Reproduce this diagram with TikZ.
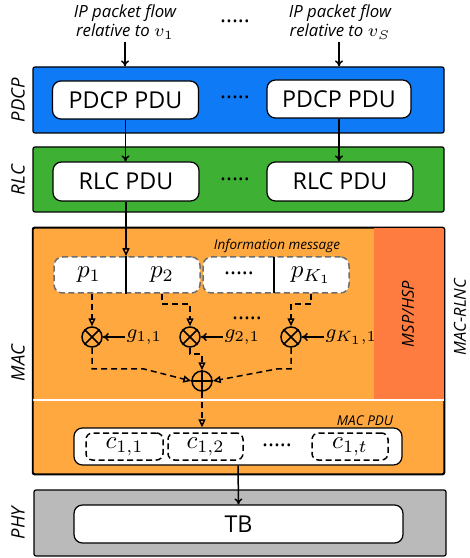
\documentclass[tikz,border=0pt]{standalone}
\usepackage{fontspec}
\setmainfont{Open Sans}
\usetikzlibrary{positioning,arrows.meta}

\definecolor{pdcpblue}{RGB}{14,122,246}
\definecolor{rlcgreen}{RGB}{62,176,52}
\definecolor{macorange}{RGB}{255,168,64}
\definecolor{mspred}{RGB}{255,124,64}
\definecolor{phygray}{RGB}{186,186,186}
\definecolor{infogray}{RGB}{110,110,110}

\def\px{0.4pt}

\tikzset{every picture/.style={line width=0.5pt},
  layer/.style={draw=black, rounded corners=0.8pt, inner sep=0pt},
  pdu/.style={draw=black, fill=white, rounded corners=3.4pt, inner sep=0pt, font=\fontsize{9.3}{11}\selectfont},
  infobox/.style={draw=infogray, fill=white, dash pattern=on 2.4pt off 1.4pt, line width=0.6pt, rounded corners=3.4pt, inner sep=0pt, minimum width=146*\px, minimum height=36*\px},
  codebox/.style={draw=black, dash pattern=on 2.4pt off 1.4pt, line width=0.6pt, rounded corners=2.6pt, inner sep=0pt, minimum height=27*\px},
  oper/.style={draw=black, circle, line width=0.6pt, minimum size=20*\px, inner sep=0pt},
  coeff/.style={inner sep=0.5pt, font=\fontsize{8.4}{10}\selectfont},
  sidelab/.style={rotate=90, font=\fontsize{7.4}{9}\selectfont\itshape},
  smalllab/.style={font=\fontsize{5.4}{6}\selectfont\itshape, inner sep=0.5pt},
  gaps/.style={font=\fontsize{9}{10}\selectfont, inner sep=0pt},
  solidarrow/.style={-{To[length=2.4pt,width=3.2pt]}, line width=0.6pt},
  opentip/.style={-{Triangle[open,length=3.2pt,width=2.8pt]}, line width=0.6pt},
  dashline/.style={dash pattern=on 2.4pt off 1.6pt}
}

\begin{document}
\begin{tikzpicture}[x=0.4pt,y=-0.4pt]
\useasboundingbox (0,0) rectangle (469,558);

% IP flows
\node [align=center, inner sep=1pt, font=\fontsize{6.7}{7.6}\selectfont\itshape] (flowa) at (125,22) {IP packet flow\\relative to $v_1$};
\node [align=center, inner sep=1pt, font=\fontsize{6.7}{7.6}\selectfont\itshape] (flows) at (340,22) {IP packet flow\\relative to $v_S$};
\node [gaps] (gapflow) at (235,21) {.....};

%Shape: PDCP layer
\node [layer, fill=pdcpblue, minimum width=411*\px, minimum height=66*\px] (pdcp) at (238.5,100) {};
\node [sidelab] (pdcplab) at (18,100) {PDCP};
\node [pdu, minimum width=146*\px, minimum height=38*\px] (pdcpa) at (125.5,100) {PDCP PDU};
\node [pdu, minimum width=144*\px, minimum height=38*\px] (pdcpb) at (339,99) {PDCP PDU};
\node [gaps] (gappdcp) at (235,97) {.....};

%Shape: RLC layer
\node [layer, fill=rlcgreen, minimum width=411*\px, minimum height=65*\px] (rlc) at (238.5,179.5) {};
\node [sidelab] (rlclab) at (18,180) {RLC};
\node [pdu, minimum width=146*\px, minimum height=39*\px] (rlca) at (126,181.5) {RLC PDU};
\node [pdu, minimum width=146*\px, minimum height=39*\px] (rlcb) at (340,181.5) {RLC PDU};
\node [gaps] (gaprlc) at (235,179) {.....};

%Shape: MAC layer
\node [layer, fill=macorange, minimum width=411*\px, minimum height=246*\px] (mac) at (238.5,351) {};
\fill [mspred] (374,228.3) rectangle (443.7,398.5);
\draw [white, line width=0.8pt] (33.3,399.6) -- (443.7,399.6);
\draw [rounded corners=0.8pt] (mac.south west) rectangle (mac.north east);
\node [sidelab] (maclab) at (18,363) {MAC};
\node [sidelab, font=\fontsize{6.6}{8}\selectfont\itshape] (msplab) at (408,314) {MSP/HSP};
\node [sidelab, font=\fontsize{6.6}{8}\selectfont\itshape] (rlnclab) at (460,317) {MAC-RLNC};

% Information message
\node [smalllab] (infolab) at (277,246) {Information message};
\node [infobox] (infoa) at (127,275) {};
\node [infobox] (infob) at (276,275) {};
\draw [line width=0.6pt] (infoa.north -| rlca) -- (infoa.south -| rlca);
\draw [line width=0.6pt] (274,257) -- (274,293);
\node (p1) at (89,275) {$p_1$};
\node (p2) at (162,275) {$p_2$};
\node [gaps] (gapinfo) at (239,273) {.....};
\node (pk) at (311,275) {$p_{K_1}$};

% coding operations
\node [oper] (mul1) at (92,337) {};
\node [oper] (mul2) at (190,337) {};
\node [oper] (mul3) at (291,337) {};
\node [oper] (add) at (202,381) {};
\foreach \m in {mul1,mul2,mul3}
  \draw [line width=0.6pt] (\m.45) -- (\m.225) (\m.135) -- (\m.315);
\draw [line width=0.6pt] (add.north) -- (add.south) (add.west) -- (add.east);
\node [coeff, right=22*\px of mul1] (g1) {$g_{1,1}$};
\node [coeff, right=22*\px of mul2] (g2) {$g_{2,1}$};
\node [coeff, right=22*\px of mul3] (gk) {$g_{K_1,1}$};
\node [gaps] (gapmul) at (247,318) {.....};

% MAC PDU
\node [smalllab] (pdulab) at (365,421) {MAC PDU};
\node [pdu, minimum width=328*\px, minimum height=37*\px] (macpdu) at (238,446.5) {};
\node [codebox, minimum width=77*\px] (c11) at (124.5,446.5) {$c_{1,1}$};
\node [codebox, minimum width=75*\px] (c12) at (205.5,446.5) {$c_{1,2}$};
\node [gaps] (gapcode) at (277,445) {.....};
\node [codebox, minimum width=76*\px] (c1t) at (350,446.5) {$c_{1,t}$};

%Shape: PHY layer
\node [layer, fill=phygray, minimum width=412*\px, minimum height=66*\px] (phy) at (240,523) {};
\node [sidelab] (phylab) at (18,523) {PHY};
\node [pdu, minimum width=329*\px, minimum height=38*\px] (tb) at (238.5,524) {TB};

% connectors
\draw [solidarrow] (flowa.south) -- (flowa.south |- pdcp.north);
\draw [solidarrow] (flows.south -| pdcpb) -- (pdcp.north -| pdcpb);
\draw [solidarrow] (pdcpa.south) -- (pdcpa.south |- rlca.north);
\draw [solidarrow] (pdcpb.south) -- (pdcpb.south |- rlcb.north);
\draw [opentip] (rlca.south) -- (rlca.south |- infoa.north);
\draw [dashline, opentip] (mul1 |- infoa.south) -- (mul1.north);
\draw [dashline, opentip] (p2 |- infoa.south) -- ++(0,10) -| (mul2.north);
\draw [dashline, opentip] (pk |- infob.south) -- ++(0,10) -| (mul3.north);
\draw [solidarrow] (g1.west) -- (mul1.east);
\draw [solidarrow] (g2.west) -- (mul2.east);
\draw [solidarrow] (gk.west) -- (mul3.east);
\draw [dashline, opentip] (mul1.south) -- ++(0,21) -- ++(51,0) -- (add.west);
\draw [dashline, opentip] (mul2.south) -- ++(0,6) -| (add.north);
\draw [dashline, opentip] (mul3.south) -- ++(0,21) -- ++(-13,0) -- (add.east);
\draw [dashline, opentip] (add.south) -- (add.south |- macpdu.north);
\draw [solidarrow] (macpdu.south) -- (tb.north);

\end{tikzpicture}
\end{document}
